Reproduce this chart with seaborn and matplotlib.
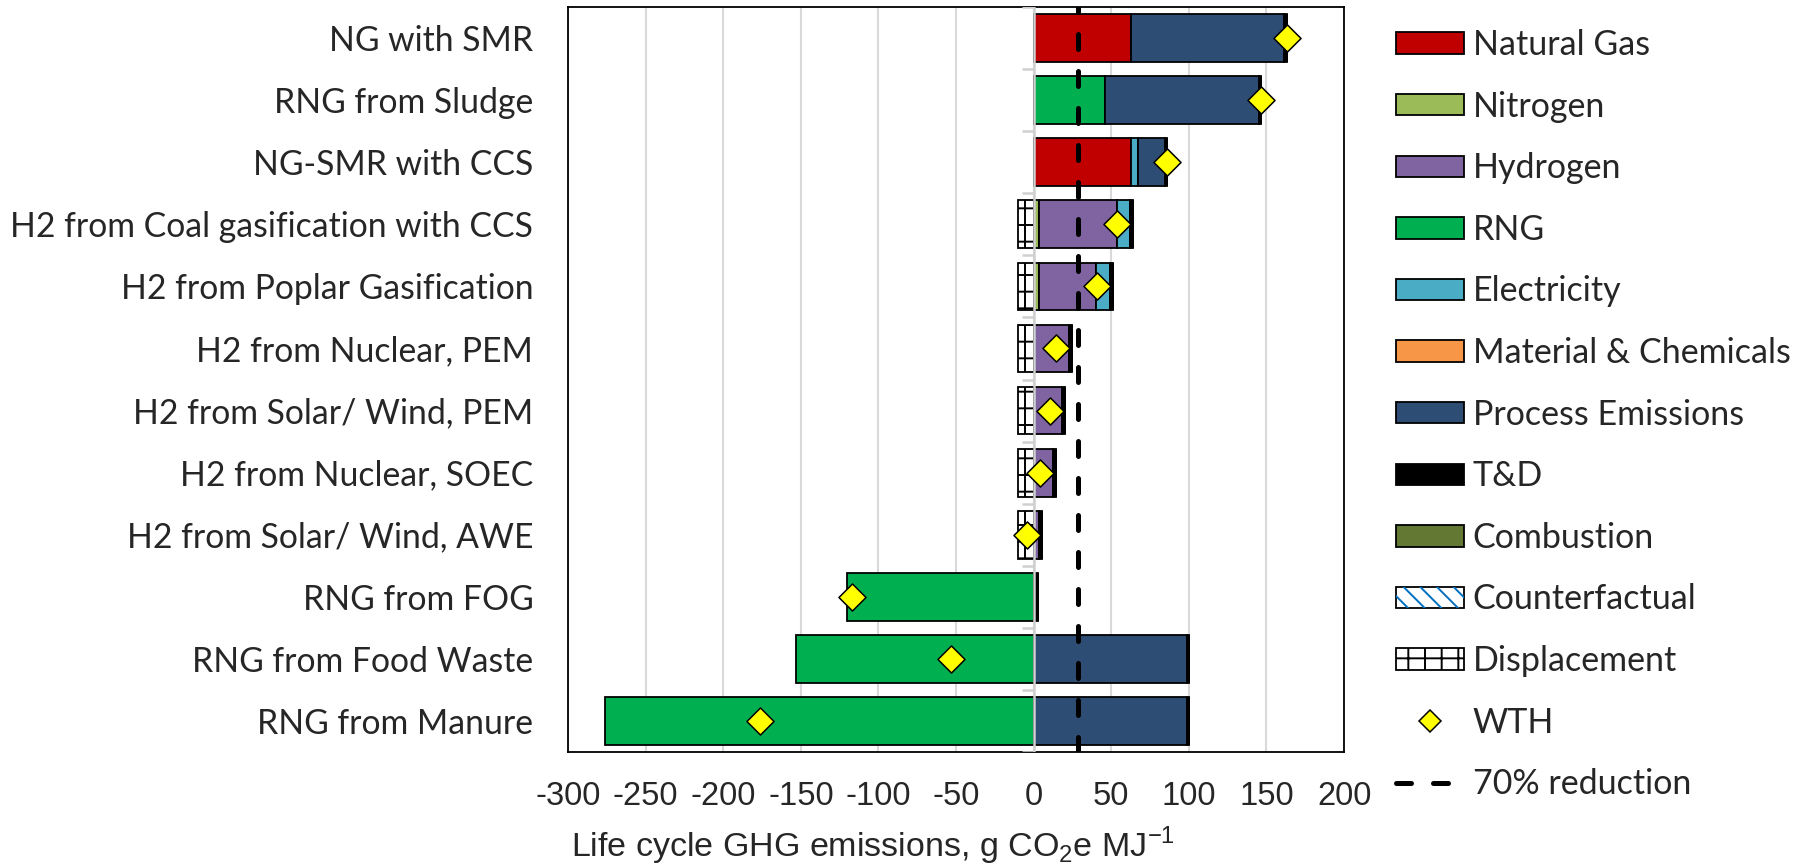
import numpy as np
import pandas as pd
import matplotlib
matplotlib.use("Agg")
import matplotlib.pyplot as plt
import seaborn as sns
from matplotlib.patches import Patch
from matplotlib.lines import Line2D
from matplotlib.legend_handler import HandlerTuple

# --- data (g CO2e / MJ) ---
pathways = ["NG with SMR", "RNG from Sludge", "NG-SMR with CCS",
            "H2 from Coal gasification with CCS", "H2 from Poplar Gasification",
            "H2 from Nuclear, PEM", "H2 from Solar/ Wind, PEM",
            "H2 from Nuclear, SOEC", "H2 from Solar/ Wind, AWE",
            "RNG from FOG", "RNG from Food Waste", "RNG from Manure"]

natural_gas    = [63, 0, 63, 0, 0, 0, 0, 0, 0, 0, 0, 0]
nitrogen       = [0, 0, 0, 3.4, 3.2, 0, 0, 0, 0, 0, 0, 0]
hydrogen       = [0, 0, 0, 50, 37, 22.5, 18.5, 12.2, 3.4, 0, 0, 0]
rng            = [0, 46, 0, 0, 0, 0, 0, 0, 0, -120, -153, -276]
electricity    = [0, 0, 4.5, 8.5, 8.7, 0, 0, 0, 0, 0, 0, 0]
materials      = [0, 0, 0, 0, 0, 0, 0, 0, 0, 0, 0, 0]
process        = [98.5, 99, 17, 0, 0, 0, 0, 0, 0, 0, 98.5, 98.5]
t_and_d        = [1.5, 1.5, 1.5, 2, 2.1, 2, 2, 2, 2, 2.7, 1.5, 1.5]
combustion     = [0, 0, 0, 0, 0, 0, 0, 0, 0, 0, 0, 0]
counterfactual = [0, 0, 0, 0, 0, 0, 0, 0, 0, 0, 0, 0]
displacement   = [0, 0, 0, -10, -10, -10, -10, -10, -10, 0, 0, 0]
wth            = [163, 146.5, 86, 54, 41, 14.5, 10.5, 4.2, -4.6, -117.3, -53, -176]
reduction_70 = 28.5

x_ticks = list(range(-300, 201, 50))

df = pd.DataFrame({
    "Natural Gas": natural_gas, "Nitrogen": nitrogen, "Hydrogen": hydrogen,
    "RNG": rng, "Electricity": electricity, "Material & Chemicals": materials,
    "Process Emissions": process, "T&D": t_and_d, "Combustion": combustion,
    "Counterfactual": counterfactual, "Displacement": displacement,
}, index=pathways)

colors = {
    "Natural Gas": "#C00000", "Nitrogen": "#9BBB59", "Hydrogen": "#8064A2",
    "RNG": "#00B050", "Electricity": "#4BACC6", "Material & Chemicals": "#F79646",
    "Process Emissions": "#2E4D75", "T&D": "#000000", "Combustion": "#627833",
    "Counterfactual": "#FFFFFF", "Displacement": "#FFFFFF",
}
hatches = {"Counterfactual": "\\\\", "Displacement": "+"}

sns.set_style("white")
plt.rcParams["font.family"] = ["Lato", "DejaVu Sans"]
plt.rcParams["hatch.linewidth"] = 1.4
plt.rcParams["mathtext.fontset"] = "custom"
plt.rcParams["mathtext.rm"] = "Liberation Sans"

fig = plt.figure(figsize=(18.01, 8.67), dpi=100)
ax = fig.add_axes([0.3154, 0.1326, 0.4309, 0.8593])

ypos = np.arange(len(pathways))
pos_left = np.zeros(len(pathways))
neg_left = np.zeros(len(pathways))
for col in df.columns:
    v = df[col].to_numpy(dtype=float)
    left = np.where(v >= 0, pos_left, neg_left)
    ax.barh(ypos, v, left=left, height=0.77, color=colors[col],
            edgecolor="black", linewidth=1.3, hatch=hatches.get(col), zorder=2)
    pos_left += np.clip(v, 0, None)
    neg_left += np.clip(v, None, 0)

# category axis sits at x = 0 (Excel style)
ax.axvline(0, color="#D0D0D0", lw=1.8, zorder=3)
ax.hlines(np.arange(len(pathways) + 1) - 0.5, -7.5, 0, color="#D0D0D0", lw=1.8, zorder=3)

ax.axvline(reduction_70, color="black", lw=3.6, linestyle=(0, (3, 4.4)),
           dash_capstyle="round", zorder=4)

sns.scatterplot(x=wth, y=ypos, marker="D", s=190, color="#FFFF00",
                edgecolor="black", linewidth=1.1, zorder=5, ax=ax, legend=False)

ax.set_xlim(-300, 200)
ax.set_ylim(len(pathways) - 0.5, -0.5)
ax.set_xticks(x_ticks)
ax.set_xticklabels([str(t) for t in x_ticks], family=["Liberation Sans", "DejaVu Sans"], fontsize=23.5)
ax.set_yticks(ypos)
ax.set_yticklabels(pathways, fontsize=24.3)
ax.tick_params(axis="x", length=0, pad=21)
ax.tick_params(axis="y", length=0, pad=25)
ax.grid(axis="x", color="#D9D9D9", lw=1.5)
ax.grid(axis="y", visible=False)
ax.set_axisbelow(True)
for s in ax.spines.values():
    s.set_color("black")
    s.set_linewidth(1.3)

ax.set_xlabel(r"Life cycle GHG emissions, g CO$_\mathregular{2}$e MJ$^\mathregular{-1}$",
              family=["Liberation Sans", "DejaVu Sans"], fontsize=24.5)
ax.xaxis.set_label_coords(0.393, -0.098)

# legend
handles = []
labels = []
for col in df.columns:
    if col == "Counterfactual":
        h = (Patch(facecolor="white", edgecolor="black", lw=1.3),
             Patch(facecolor="none", edgecolor="#0070C0", hatch="\\\\", lw=0))
    elif col == "Displacement":
        h = Patch(facecolor="white", edgecolor="black", hatch="+", lw=1.3)
    else:
        h = Patch(facecolor=colors[col], edgecolor="black", lw=1.3)
    handles.append(h)
    labels.append(col)
handles.append(Line2D([], [], ls="none", marker="D", markersize=11,
                      markerfacecolor="#FFFF00", markeredgecolor="black", markeredgewidth=1.1))
labels.append("WTH")
handles.append(Line2D([], [], color="black", lw=3.6, linestyle=(0, (3, 4.4)),
                      dash_capstyle="round"))
labels.append("70% reduction")

fig.legend(handles, labels, loc="upper left", bbox_to_anchor=(0.775, 0.9665),
           frameon=False, fontsize=24.5, borderpad=0, borderaxespad=0,
           handlelength=2.0, handleheight=0.59, handletextpad=0.26,
           labelspacing=0.87, handler_map={tuple: HandlerTuple(ndivide=1)})

fig.savefig("out.png", dpi=100)
